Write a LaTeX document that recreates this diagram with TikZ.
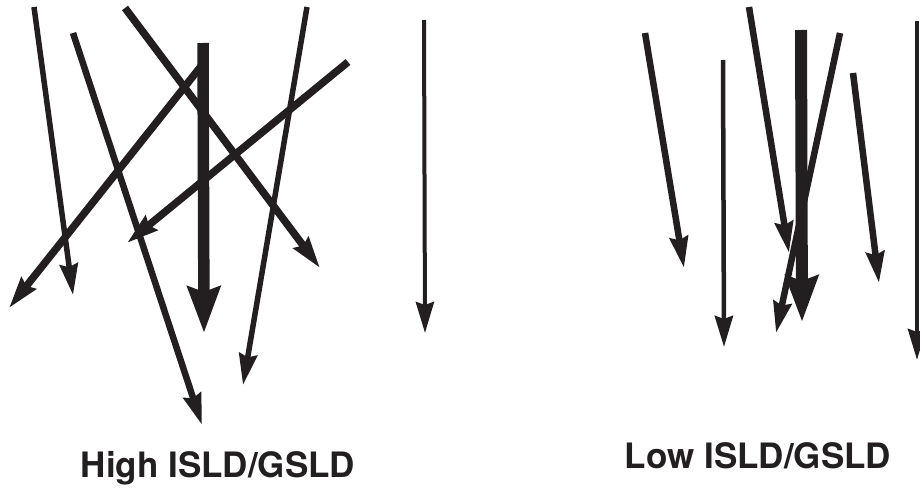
\documentclass[tikz,border=0pt]{standalone}
\usepackage{fontspec}
\setmainfont{TeX Gyre Heros}
\usetikzlibrary{arrows.meta}
\definecolor{ink}{HTML}{231F20}
\tikzset{
  vec/.style={draw=ink, line width=#1, line cap=butt,
    -{Stealth[length=31pt, width=18pt, inset=3pt]}},
  bigvec/.style={draw=ink, line width=#1, line cap=butt,
    -{Stealth[length=46pt, width=32pt, inset=5pt]}},
  lab/.style={font=\fontsize{35}{40}\selectfont\bfseries, text=ink, anchor=base, inner sep=0pt}
}
\begin{document}
\begin{tikzpicture}[x=1pt,y=-1pt]
\useasboundingbox (0,0) rectangle (920,492);
% left panel
\coordinate (a1) at (34,7);   \coordinate (b1) at (73,295);
\coordinate (a2) at (73,33);  \coordinate (b2) at (202,425);
\coordinate (a3) at (125,8);  \coordinate (b3) at (320,268);
\coordinate (a4) at (203,43); \coordinate (b4) at (204,333);
\coordinate (a5) at (202,65); \coordinate (b5) at (9,308);
\coordinate (a6) at (307,7);  \coordinate (b6) at (243,385);
\coordinate (a7) at (348,62); \coordinate (b7) at (127,243);
\coordinate (a8) at (424,20); \coordinate (b8) at (425,333);
\draw[vec=5.5pt] (a1) -- (b1);
\draw[vec=6.5pt] (a2) -- (b2);
\draw[vec=7.5pt] (a3) -- (b3);
\draw[bigvec=11.5pt] (a4) -- (b4);
\draw[vec=7.5pt] (a5) -- (b5);
\draw[vec=5.5pt] (a6) -- (b6);
\draw[vec=7.5pt] (a7) -- (b7);
\draw[vec=4pt] (a8) -- (b8);
% right panel
\coordinate (c1) at (645,33); \coordinate (d1) at (684,268);
\coordinate (c2) at (723,60); \coordinate (d2) at (724,347);
\coordinate (c3) at (749,7);  \coordinate (d3) at (789,253);
\coordinate (c4) at (801,30); \coordinate (d4) at (802,322);
\coordinate (c5) at (840,33); \coordinate (d5) at (776,333);
\coordinate (c6) at (853,73); \coordinate (d6) at (879,283);
\coordinate (c7) at (917,21); \coordinate (d7) at (917,360);
\draw[vec=6.5pt] (c1) -- (d1);
\draw[vec=4.5pt] (c2) -- (d2);
\draw[vec=6.5pt] (c3) -- (d3);
\draw[bigvec=12pt] (c4) -- (d4);
\draw[vec=6.5pt] (c5) -- (d5);
\draw[vec=6.5pt] (c6) -- (d6);
\draw[vec=4.5pt] (c7) -- (d7);
% labels
\node[lab] (hi) at (218,477) {High ISLD/GSLD};
\node[lab] (lo) at (758,468) {Low ISLD/GSLD};
\end{tikzpicture}
\end{document}
